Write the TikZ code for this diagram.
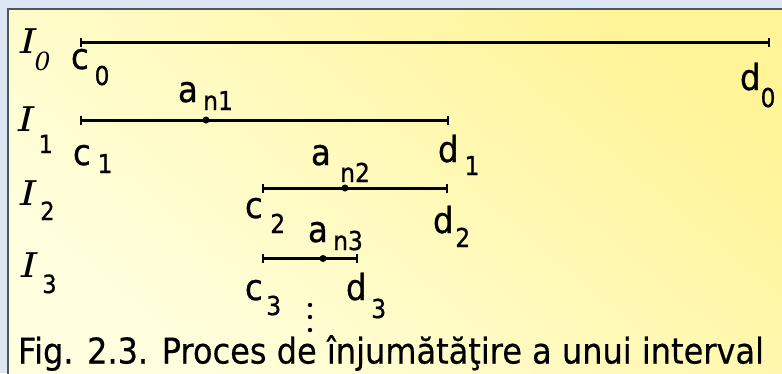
\documentclass[tikz,border=0pt]{standalone}
\usepackage{fontspec}
\newfontfamily\vfont{DejaVu Sans}[FakeStretch=0.9,FakeBold=0.8]
\newfontfamily\capfont{DejaVu Sans}[FakeStretch=0.902,FakeBold=0.5]
\newfontfamily\serfont{DejaVu Serif}
\definecolor{outerbg}{HTML}{DDE7F3}
\definecolor{framegray}{HTML}{50565C}
\definecolor{ypale}{HTML}{FFFFE0}
\definecolor{ydeep}{HTML}{FFF497}
% main letter, subscript, horizontal offset of subscript, lowering of subscript
\newcommand{\lbl}[4]{\rlap{\fontsize{36}{36}\selectfont #1}\hspace{#3pt}\raisebox{-#4pt}{\fontsize{26}{26}\selectfont #2}}
\newcommand{\ilbl}[4]{\rlap{\scalebox{1.2}[1]{\serfont\itshape\fontsize{34}{34}\selectfont I}}\hspace{#2pt}\raisebox{-#3pt}{\fontsize{25}{25}\selectfont #4#1}}
\tikzset{
  lab/.style={anchor=base west, inner sep=0pt, outer sep=0pt, font=\vfont},
  seg/.style={line width=3pt, line cap=butt},
  tick/.style={line width=1.6pt},
  ptdot/.style={circle, fill=black, inner sep=0pt, minimum size=7pt},
  smalldot/.style={circle, fill=black, inner sep=0pt, minimum size=4.4pt}
}
\begin{document}
\begin{tikzpicture}[x=1pt,y=-1pt]
\useasboundingbox (0,0) rectangle (782,373);
\fill[outerbg] (0,0) rectangle (782,373);
\shade[top color=ydeep, bottom color=ypale, shading angle=-40] (8,9) rectangle (790,380);
\draw[framegray, line width=1.8pt] (8,385) -- (8,9) -- (790,9);
% segment end points
\coordinate (c0) at (81,42.5); \coordinate (d0) at (769,42.5);
\coordinate (c1) at (81,120); \coordinate (d1) at (448,120);
\coordinate (c2) at (263,188); \coordinate (d2) at (447,188);
\coordinate (c3) at (263,258.5); \coordinate (d3) at (357,258.5);
\draw[seg] (c0) -- (d0);
\draw[seg] (c1) -- (d1);
\draw[seg] (c2) -- (d2);
\draw[seg] (c3) -- (d3);
\foreach \p in {c0,d0,c1,d1,c2,d2,c3,d3}
  \draw[tick] ([yshift=-4.5pt]\p) -- ([yshift=4.5pt]\p);
\node[ptdot] (m1) at (206,120) {};
\node[ptdot] (m2) at (345,188) {};
\node[ptdot] (m3) at (323,258.5) {};
% interval names
\node[lab] (i0) at (20,53) {\ilbl{0}{14.6}{17}{\serfont\itshape}};
\node[lab] (i1) at (18,131) {\ilbl{1}{20.6}{22}{}};
\node[lab] (i2) at (20,205) {\ilbl{2}{20.3}{15}{}};
\node[lab] (i3) at (21,277) {\ilbl{3}{21.3}{16}{}};
% end point labels
\node[lab] (lc0) at (71,69) {\lbl{c}{0}{23.6}{16}};
\node[lab] (lc1) at (73,165) {\lbl{c}{1}{24.6}{8}};
\node[lab] (lc2) at (245,218) {\lbl{c}{2}{25.3}{15}};
\node[lab] (lc3) at (245,300) {\lbl{c}{3}{21.3}{15}};
\node[lab] (ld0) at (740,90) {\lbl{d}{0}{20.6}{17}};
\node[lab] (ld1) at (438,162) {\lbl{d}{1}{26.6}{13}};
\node[lab] (ld2) at (433,233) {\lbl{d}{2}{22.3}{14}};
\node[lab] (ld3) at (346,300) {\lbl{d}{3}{25.3}{18}};
\node[lab] (la1) at (178,102) {\lbl{a}{n1}{25.2}{8}};
\node[lab] (la2) at (311,165) {\lbl{a}{n2}{29.2}{17}};
\node[lab] (la3) at (308,242) {\lbl{a}{n3}{25.2}{8}};
% vertical ellipsis
\node[smalldot] (v1) at (310,305) {};
\node[smalldot] (v2) at (310,317) {};
\node[smalldot] (v3) at (310,330) {};
% caption
\node[anchor=base, inner sep=0pt, font=\capfont\fontsize{35.5}{37}\selectfont] (cap) at (391,363.5) {Fig. 2.3. Proces de înjumătăţire a unui interval};
\end{tikzpicture}
\end{document}
